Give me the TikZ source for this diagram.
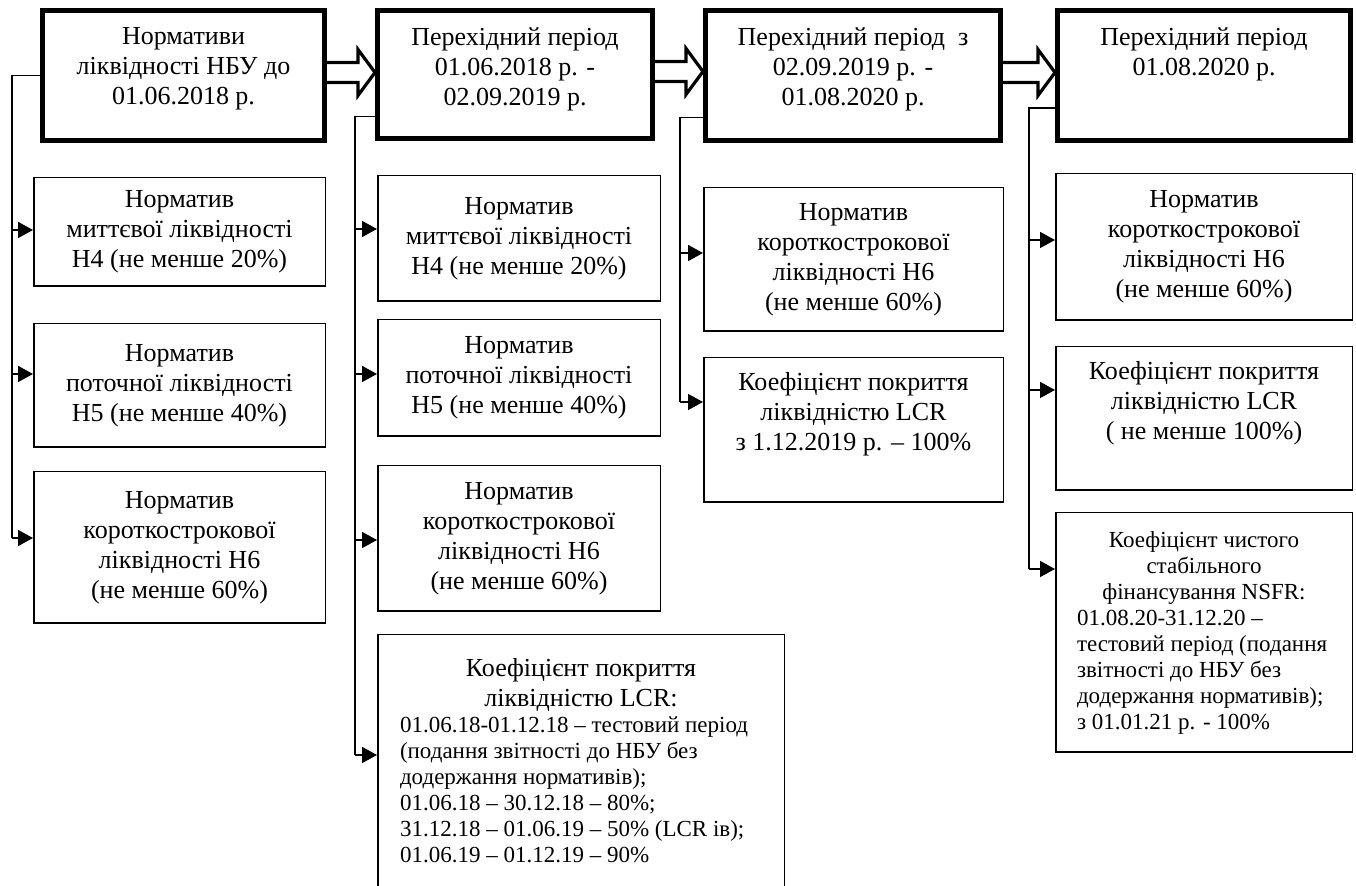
\documentclass[tikz,border=0pt]{standalone}
\usepackage{fontspec}
\setmainfont{Liberation Serif}
\usetikzlibrary{calc,arrows.meta}
\newcommand\bigfont{\fontsize{13}{15}\selectfont}
\newcommand\smallfont{\fontsize{11.5}{13}\selectfont}
\newcommand\plainspace{\spaceskip=0pt\xspaceskip=0pt\relax}

\begin{document}
\begin{tikzpicture}[x=0.5pt, y=-0.5pt,
	hdr/.style={draw, line width=2.5pt, anchor=north west, inner sep=0pt},
	box/.style={draw, line width=0.75pt, anchor=north west, align=center, inner sep=0pt, font=\bigfont},
	txt/.style={align=center, inner sep=0pt, font=\bigfont},
	link/.style={line width=0.8pt},
	tip/.style={link, -{Triangle[length=7.5pt, width=8pt]}},
	fat/.style={line width=1.6pt, fill=white, line join=miter}]
			%%%%% START %%%%%
			
			\useasboundingbox[fill=white] (0,0) rectangle (1356,886);
			
			\node[hdr, minimum width=141pt, minimum height=65pt] (h1) at (40,8) {};
			\node[hdr, minimum width=137.5pt, minimum height=64pt] (h2) at (375,8) {};
			\node[hdr, minimum width=147.5pt, minimum height=65pt] (h3) at (703,8) {};
			\node[hdr, minimum width=146.5pt, minimum height=65pt] (h4) at (1055,8) {};
			
			\node[txt, anchor=north] (h1t) at ([yshift=-9.5pt]h1.north) {Нормативи\\ ліквідності НБУ до\\ 01.06.2018 р.};
			\node[txt, anchor=north] (h2t) at ([yshift=-9.5pt]h2.north) {Перехідний період\\ 01.06.2018 р. -\\ 02.09.2019 р.};
			\node[txt, anchor=north] (h3t) at ([yshift=-9.5pt]h3.north) {Перехідний період\ \ з\\ 02.09.2019 р. -\\ 01.08.2020 р.};
			\node[txt, anchor=north] (h4t) at ([yshift=-9.5pt]h4.north) {Перехідний період\\ 01.08.2020 р.};
			
			\node[box, minimum width=145.75pt, minimum height=54.25pt] (b11) at (33,177) {Норматив\\ миттєвої ліквідності\\ Н4 (не менше 20\%)};
			\node[box, minimum width=145.75pt, minimum height=61.75pt] (b12) at (33,323) {Норматив\\ поточної ліквідності\\ Н5 (не менше 40\%)};
			\node[box, minimum width=145.75pt, minimum height=75.75pt] (b13) at (33,471) {Норматив\\ короткострокової\\ ліквідності Н6\\ (не менше 60\%)};
			
			\node[box, minimum width=141.25pt, minimum height=62.75pt] (b21) at (377,175) {Норматив\\ миттєвої ліквідності\\ Н4 (не менше 20\%)};
			\node[box, minimum width=141.25pt, minimum height=58.25pt] (b22) at (377,319) {Норматив\\ поточної ліквідності\\ Н5 (не менше 40\%)};
			\node[box, minimum width=141.25pt, minimum height=72.75pt] (b23) at (377,465) {Норматив\\ короткострокової\\ ліквідності Н6\\ (не менше 60\%)};
			\node[box, minimum width=203.25pt, minimum height=126.25pt, text width=181pt, align=left] (b24) at (377,634) {\plainspace{\bigfont\centering Коефіцієнт покриття\par ліквідністю LCR:\par}{\smallfont 01.06.18-01.12.18 – тестовий період\par (подання звітності до НБУ без\par додержання нормативів);\par 01.06.18 – 30.12.18 – 80\%;\par 31.12.18 – 01.06.19 – 50\% (LCR ів);\par 01.06.19 – 01.12.19 – 90\%\par}};
			
			\node[box, minimum width=149.75pt, minimum height=71.75pt] (b31) at (703,187) {Норматив\\ короткострокової\\ ліквідності Н6\\ (не менше 60\%)};
			\node[box, minimum width=149.75pt, minimum height=72.25pt] (b32) at (703,357) {};
			\node[txt] (b32t) at ([yshift=8pt]b32.center) {Коефіцієнт покриття\\ ліквідністю LCR\\ з 1.12.2019 р. – 100\%};
			
			\node[box, minimum width=148.25pt, minimum height=73.25pt] (b41) at (1055,173) {Норматив\\ короткострокової\\ ліквідності Н6\\ (не менше 60\%)};
			\node[box, minimum width=148.25pt, minimum height=71.75pt] (b42) at (1055,346) {};
			\node[txt] (b42t) at ([yshift=7.75pt]b42.center) {Коефіцієнт покриття\\ ліквідністю LCR\\ ( не менше 100\%)};
			\node[box, minimum width=148.25pt, minimum height=119.75pt, text width=127pt, align=left, font=\smallfont] (b43) at (1055,512) {\plainspace{\centering Коефіцієнт чистого\par стабільного\par фінансування NSFR:\par}01.08.20-31.12.20 –\par тестовий період (подання\par звітності до НБУ без\par додержання нормативів);\par з 01.01.21 р. - 100\%\par};
			
			\foreach \a/\b in {h1/h2, h2/h3, h3/h4} {
				\coordinate (s) at ([yshift=1.5pt]\a.east);
				\coordinate (e) at (s -| \b.west);
				\draw[fat] ($(s)+(0,-10)$) -- ($(e)+(-17,-10)$) -- ($(e)+(-17,-23)$) -- (e) -- ($(e)+(-17,23)$) -- ($(e)+(-17,10)$) -- ($(s)+(0,10)$);
			}
			
			\coordinate (k1) at (12,0);
			\coordinate (k2) at (355,0);
			\coordinate (k3) at (680,0);
			\coordinate (k4) at (1029,0);
			\coordinate (s1) at (h1.west);
			\coordinate (s2) at ([yshift=-21pt]h2.west);
			\coordinate (s3) at ([yshift=-21pt]h3.west);
			\coordinate (s4) at ([yshift=-16.25pt]h4.west);
			
			\foreach \b/\s in {b11/1, b12/5.75, b13/4.75, b21/4.75, b22/2, b23/-0.75, b24/3, b31/3.25, b32/14, b41/3.5, b42/14.25, b43/31.75}
				\coordinate (e\b) at ([yshift=\s pt]\b.west);
			
			\draw[link] (s1) -- (k1 |- s1) -- (k1 |- eb13);
			\draw[link] (s2) -- (k2 |- s2) -- (k2 |- eb24);
			\draw[link] (s3) -- (k3 |- s3) -- (k3 |- eb32);
			\draw[link] (s4) -- (k4 |- s4) -- (k4 |- eb43);
			
			\foreach \k/\b in {k1/b11, k1/b12, k1/b13, k2/b21, k2/b22, k2/b23, k2/b24, k3/b31, k3/b32, k4/b41, k4/b42, k4/b43}
				\draw[tip] (\k |- e\b) -- (e\b);
			
			%%%%% END %%%%%
		\end{tikzpicture}
\end{document}
